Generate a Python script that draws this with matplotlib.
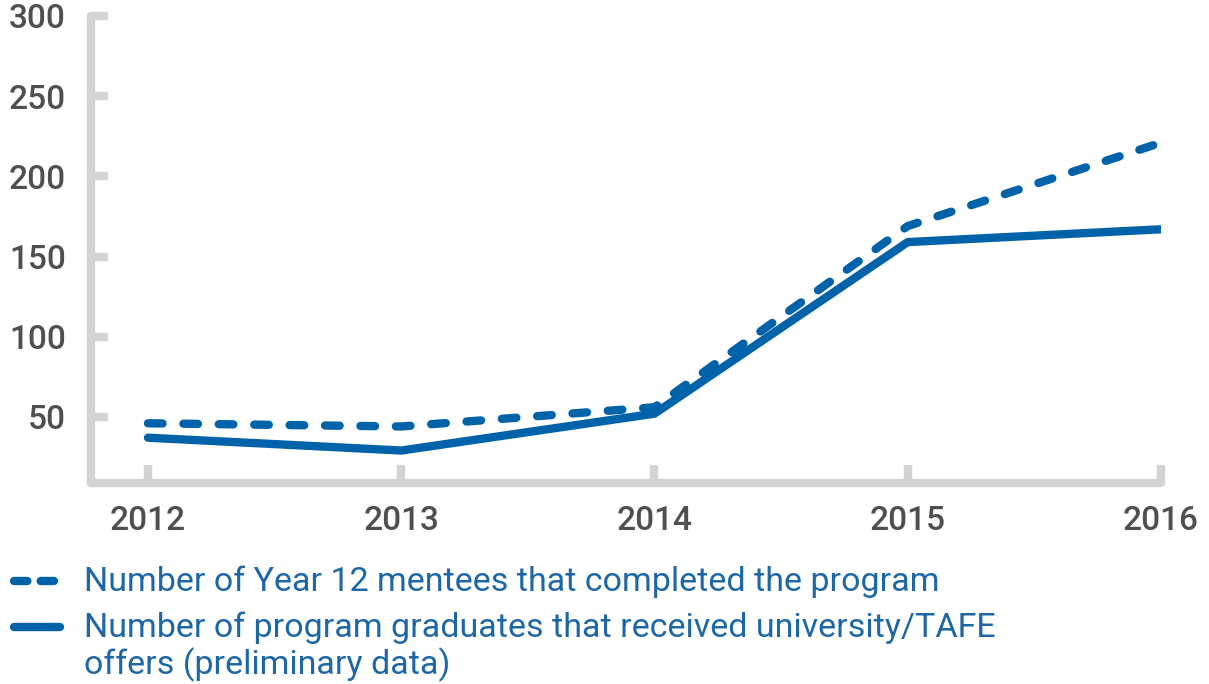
import matplotlib.pyplot as plt
from matplotlib.lines import Line2D

years = [2012, 2013, 2014, 2015, 2016]
completed = [46, 44, 56, 169, 221]
offers = [37, 29, 52, 159, 167]
yticks = [50, 100, 150, 200, 250, 300]
label_completed = "Number of Year 12 mentees that completed the program"
label_offers = "Number of program graduates that received university/TAFE\noffers (preliminary data)"

blue = "#0062a8"
grey = "#d1d3d4"
text_grey = "#4f4f4f"

plt.rcParams['font.family'] = ['Roboto', 'DejaVu Sans']

W, H = 1209, 684
fig = plt.figure(figsize=(W / 100, H / 100), dpi=100)
ax = fig.add_axes([91 / W, 1 - 483 / H, (1161 - 91) / W, (483 - 16) / H])

ax.plot(years, completed, color=blue, lw=6, dashes=(1.75, 2.5),
        dash_capstyle='round', solid_joinstyle='round')
ax.plot(years, offers, color=blue, lw=6, solid_capstyle='round',
        solid_joinstyle='round')

ax.set_xlim(2011.775, 2016)
ax.set_ylim(8.75, 300)
ax.set_xticks(years)
ax.set_xticklabels([str(y) for y in years])
ax.set_yticks(yticks)

for side in ['top', 'right']:
    ax.spines[side].set_visible(False)
for side in ['left', 'bottom']:
    ax.spines[side].set_color(grey)
    ax.spines[side].set_linewidth(6)
    ax.spines[side].set_capstyle('round')

ax.tick_params(axis='both', direction='in', color=grey, width=6,
               labelcolor=text_grey, labelsize=24)
ax.tick_params(axis='y', length=12, pad=18)
ax.tick_params(axis='x', length=13, pad=16)
for lbl in ax.get_xticklabels() + ax.get_yticklabels():
    lbl.set_fontweight('medium')
ax.patch.set_visible(False)

# legend drawn by hand so the handles sit on the first text line
def fy(py):
    return 1 - py / H

fig.add_artist(Line2D([14 / W, 60 / W], [fy(581), fy(581)], color=blue, lw=6,
                      dashes=(1.6, 1.6), dash_capstyle='round'))
fig.add_artist(Line2D([14 / W, 60 / W], [fy(627), fy(627)], color=blue, lw=6,
                      solid_capstyle='round'))
fig.text(84 / W, fy(582), label_completed, color="#1d67a6", fontsize=24.5,
         va='center', ha='left')
fig.text(84 / W, fy(612), label_offers, color="#1d67a6", fontsize=24.5,
         va='top', ha='left', linespacing=1.1)

fig.savefig("out.png", dpi=100)
